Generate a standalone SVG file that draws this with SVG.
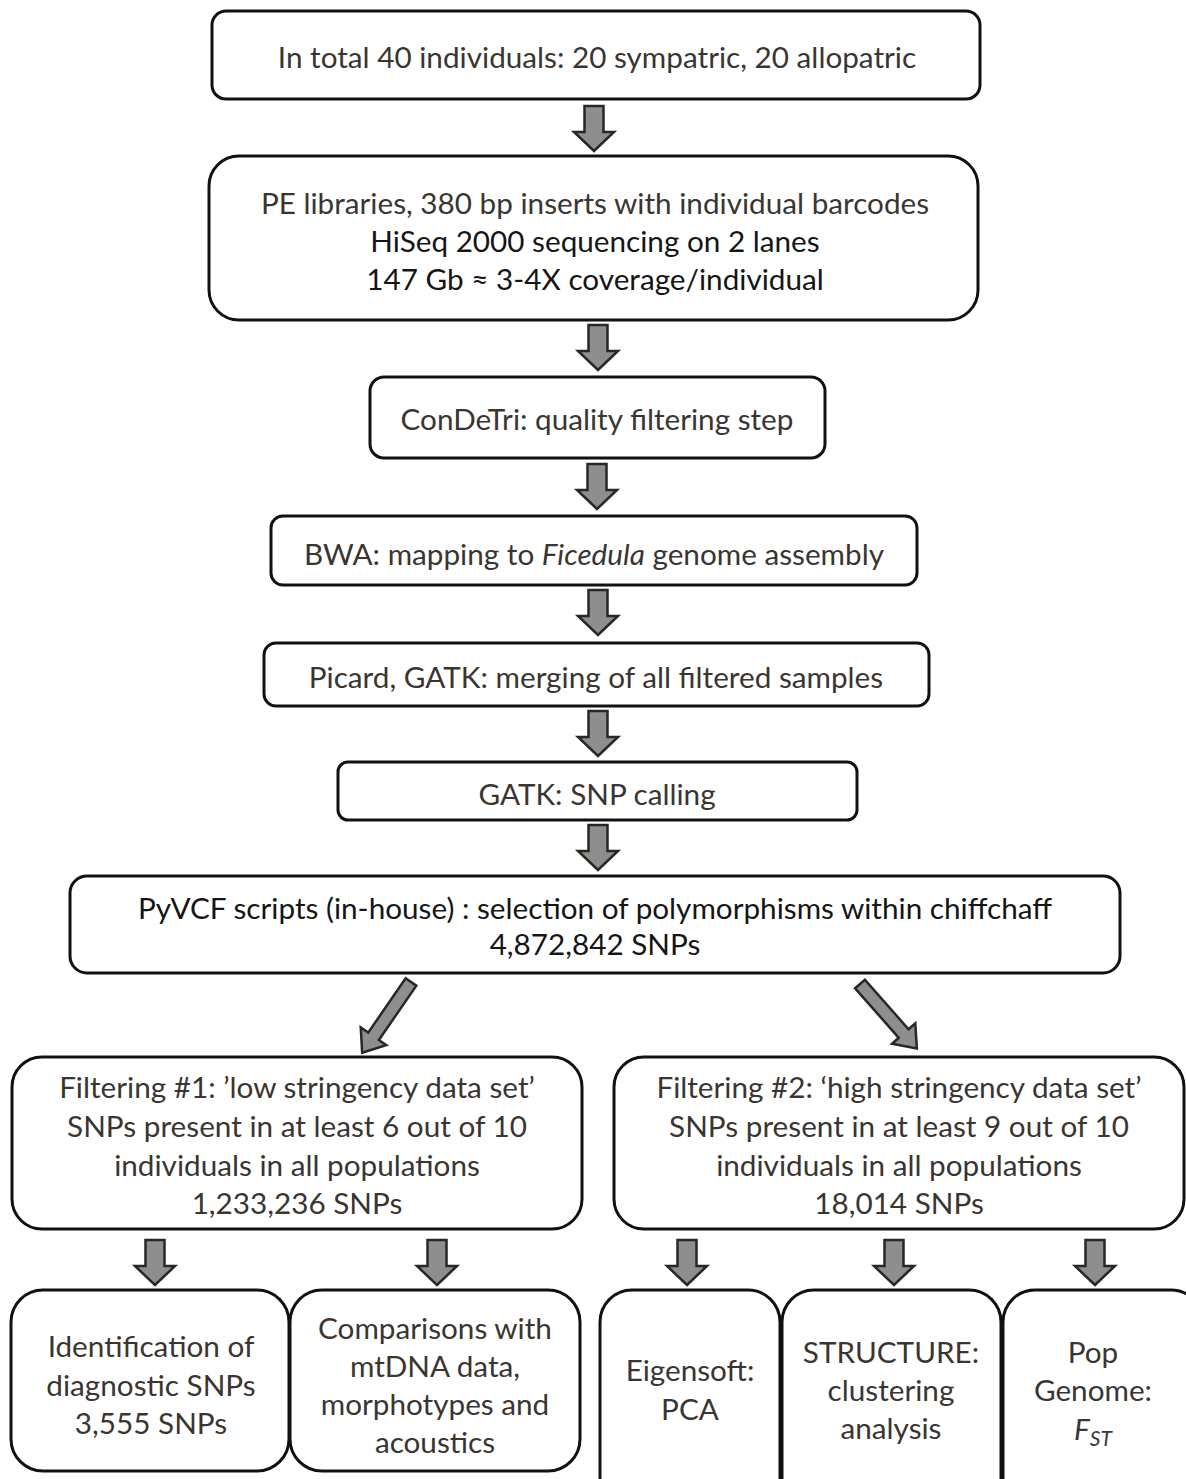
<svg xmlns="http://www.w3.org/2000/svg" xmlns:xlink="http://www.w3.org/1999/xlink" width="1186" height="1479" viewBox="0 0 1186 1479">
<style>
.box{fill:#fff;stroke:#111;stroke-width:3}
.t{font-family:Lato,"Liberation Sans",sans-serif;font-size:29.7px;fill:#3a3531;text-anchor:middle}
.d{fill:#151515}
.arr{fill:#8e8e8e;stroke:#2a2622;stroke-width:2.5;stroke-linejoin:miter}
</style>
<defs>
<polygon id="va" class="arr" points="-9.5,0 9.5,0 9.5,26 20,26 0,45 -20,26 -9.5,26"/>
<polygon id="da" class="arr" points="-6.5,0 6.5,0 6.5,66 15.5,66 0,86 -15.5,66 -6.5,66"/>
</defs>
<rect width="1186" height="1479" fill="#fff"/>
<g id="connectors">
<use xlink:href="#va" x="594" y="106"/>
<use xlink:href="#va" x="598" y="325"/>
<use xlink:href="#va" x="597" y="464"/>
<use xlink:href="#va" x="598" y="590"/>
<use xlink:href="#va" x="598" y="711"/>
<use xlink:href="#va" x="598" y="825"/>
<use xlink:href="#da" transform="translate(411,982) rotate(34.6)"/>
<use xlink:href="#da" transform="translate(860,984) rotate(-41.4)"/>
<use xlink:href="#va" x="155" y="1240"/>
<use xlink:href="#va" x="437" y="1240"/>
<use xlink:href="#va" x="687" y="1240"/>
<use xlink:href="#va" x="894" y="1240"/>
<use xlink:href="#va" x="1095" y="1240"/>
</g>
<g id="n1"><rect class="box" x="212" y="11" width="768" height="88" rx="14"/>
<text class="t" x="597" y="68">In total 40 individuals: 20 sympatric, 20 allopatric</text></g>
<g id="n2"><rect class="box" x="209" y="156" width="769" height="164" rx="30"/>
<text class="t" x="595" y="214">PE libraries, 380 bp inserts with individual barcodes</text>
<text class="t d" x="595" y="252">HiSeq 2000 sequencing on 2 lanes</text>
<text class="t d" x="595" y="290">147 Gb ≈ 3-4X coverage/individual</text></g>
<g id="n3"><rect class="box" x="370" y="377" width="455" height="81" rx="14"/>
<text class="t" x="597" y="430">ConDeTri: quality filtering step</text></g>
<g id="n4"><rect class="box" x="271" y="516" width="646" height="69" rx="12"/>
<text class="t" x="594" y="565">BWA: mapping to <tspan font-style="italic">Ficedula</tspan> genome assembly</text></g>
<g id="n5"><rect class="box" x="264" y="643" width="665" height="63" rx="12"/>
<text class="t" x="596" y="688">Picard, GATK: merging of all filtered samples</text></g>
<g id="n6"><rect class="box" x="338" y="762" width="519" height="58" rx="10"/>
<text class="t" x="597" y="805">GATK: SNP calling</text></g>
<g id="n7"><rect class="box" x="70" y="876" width="1050" height="97" rx="17"/>
<text class="t d" x="595" y="919">PyVCF scripts (in-house) : selection of polymorphisms within chiffchaff</text>
<text class="t d" x="595" y="955">4,872,842 SNPs</text></g>
<g id="n8"><rect class="box" x="12" y="1057" width="570" height="172" rx="30"/>
<text class="t" x="297" y="1098">Filtering #1: ’low stringency data set’</text>
<text class="t" x="297" y="1137">SNPs present in at least 6 out of 10</text>
<text class="t" x="297" y="1176">individuals in all populations</text>
<text class="t" x="297" y="1214">1,233,236 SNPs</text></g>
<g id="n9"><rect class="box" x="614" y="1057" width="570" height="172" rx="30"/>
<text class="t" x="899" y="1098">Filtering #2: ‘high stringency data set’</text>
<text class="t" x="899" y="1137">SNPs present in at least 9 out of 10</text>
<text class="t" x="899" y="1176">individuals in all populations</text>
<text class="t" x="899" y="1214">18,014 SNPs</text></g>
<g id="n10"><rect class="box" x="11" y="1290" width="278" height="181" rx="32"/>
<text class="t" x="151" y="1357">Identification of</text>
<text class="t" x="151" y="1396">diagnostic SNPs</text>
<text class="t" x="151" y="1434">3,555 SNPs</text></g>
<g id="n11"><rect class="box" x="290" y="1290" width="290" height="181" rx="32"/>
<text class="t" x="435" y="1339">Comparisons with</text>
<text class="t" x="435" y="1377">mtDNA data,</text>
<text class="t" x="435" y="1415">morphotypes and</text>
<text class="t" x="435" y="1453">acoustics</text></g>
<g id="n12"><rect class="box" x="600" y="1290" width="180" height="220" rx="32"/>
<text class="t" x="690" y="1381">Eigensoft:</text>
<text class="t" x="690" y="1420">PCA</text></g>
<g id="n13"><rect class="box" x="782" y="1290" width="219" height="220" rx="32"/>
<text class="t" x="891" y="1363">STRUCTURE:</text>
<text class="t" x="891" y="1401">clustering</text>
<text class="t" x="891" y="1439">analysis</text></g>
<g id="n14"><rect class="box" x="1003" y="1290" width="200" height="220" rx="32"/>
<text class="t" x="1093" y="1363">Pop</text>
<text class="t" x="1093" y="1401">Genome:</text>
<text class="t" x="1093" y="1440" font-style="italic">F<tspan font-size="21" dy="6">ST</tspan></text></g>
</svg>
